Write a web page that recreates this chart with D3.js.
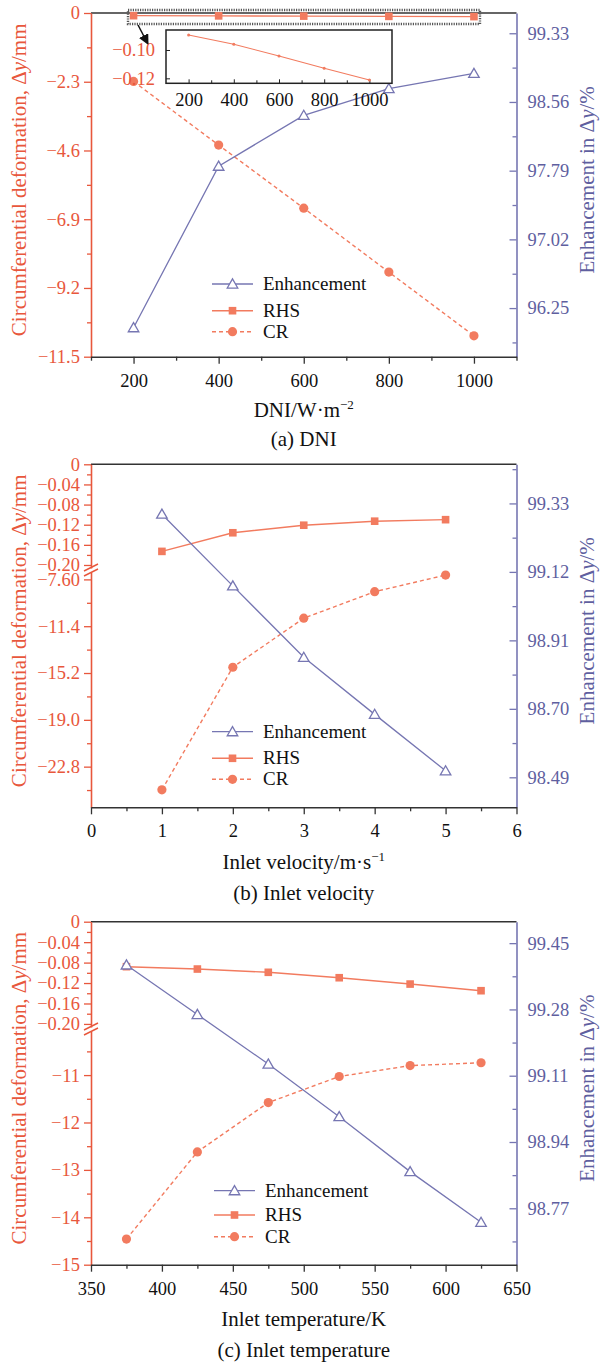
<!DOCTYPE html>
<html>
<head>
<meta charset="utf-8">
<script src="https://cdn.jsdelivr.net/npm/d3@7"></script>
<style>
  html, body { margin: 0; padding: 0; background: #fff; }
  svg { display: block; }
  svg text { font-family: "Liberation Serif", "Times New Roman", Times, serif; }
</style>
</head>
<body>
<svg id="chart" width="600" height="1365"></svg>
<script>
// ---- (a) DNI ----
const dni = [200, 400, 600, 800, 1000];
const dniEnh = [96.03, 97.84, 98.41, 98.71, 98.88];
const dniRHS = [-0.0894, -0.0960, -0.1042, -0.1129, -0.1212];
const dniCR = [-2.29, -4.42, -6.53, -8.67, -10.80];
const dniXTicks = [200, 400, 600, 800, 1000];
const dniXMinor = [100, 300, 500, 700, 900, 1100];
const dniLeftTicks = [0, -2.3, -4.6, -6.9, -9.2, -11.5];
const dniLeftLabels = ["0", "\u22122.3", "\u22124.6", "\u22126.9", "\u22129.2", "\u221211.5"];
const dniLeftMinor = [-1.15, -3.45, -5.75, -8.05, -10.35];
const dniRightTicks = [99.33, 98.56, 97.79, 97.02, 96.25];
const dniRightMinor = [98.945, 98.175, 97.405, 96.635, 95.865];
const insetYTicks = [-0.10, -0.12];
const insetYLabels = ["\u22120.10", "\u22120.12"];
const insetXTicks = [200, 400, 600, 800, 1000];
const insetXMinor = [300, 500, 700, 900];

// ---- (b) Inlet velocity ----
const vel = [1, 2, 3, 4, 5];
const velEnh = [99.297, 99.077, 98.858, 98.683, 98.51];
const velRHS = [-0.173, -0.136, -0.121, -0.113, -0.110];
const velCR = [-24.68, -14.73, -10.75, -8.60, -7.25];
const velXTicks = [0, 1, 2, 3, 4, 5, 6];
const velXMinor = [0.5, 1.5, 2.5, 3.5, 4.5, 5.5];
const velUpperTicks = [0, -0.04, -0.08, -0.12, -0.16, -0.20];
const velUpperLabels = ["0", "\u22120.04", "\u22120.08", "\u22120.12", "\u22120.16", "\u22120.20"];
const velUpperMinor = [-0.02, -0.06, -0.10, -0.14, -0.18];
const velLowerTicks = [-7.6, -11.4, -15.2, -19.0, -22.8];
const velLowerLabels = ["\u22127.60", "\u221211.4", "\u221215.2", "\u221219.0", "\u221222.8"];
const velLowerMinor = [-9.5, -13.3, -17.1, -20.9, -24.7];
const velRightTicks = [99.33, 99.12, 98.91, 98.70, 98.49];
const velRightMinor = [99.435, 99.225, 99.015, 98.805, 98.595];

// ---- (c) Inlet temperature ----
const temp = [375, 425, 475, 525, 575, 625];
const tempEnh = [99.394, 99.267, 99.14, 99.005, 98.864, 98.734];
const tempRHS = [-0.088, -0.0926, -0.099, -0.1096, -0.122, -0.135];
const tempCR = [-14.46, -12.62, -11.58, -11.03, -10.80, -10.74];
const tempXTicks = [350, 400, 450, 500, 550, 600, 650];
const tempXMinor = [375, 425, 475, 525, 575, 625];
const tempUpperTicks = [0, -0.04, -0.08, -0.12, -0.16, -0.20];
const tempUpperLabels = ["0", "\u22120.04", "\u22120.08", "\u22120.12", "\u22120.16", "\u22120.20"];
const tempUpperMinor = [-0.02, -0.06, -0.10, -0.14, -0.18];
const tempLowerTicks = [-11, -12, -13, -14, -15];
const tempLowerLabels = ["\u221211", "\u221212", "\u221213", "\u221214", "\u221215"];
const tempLowerMinor = [-10.5, -11.5, -12.5, -13.5, -14.5];
const tempRightTicks = [99.45, 99.28, 99.11, 98.94, 98.77];
const tempRightMinor = [99.365, 99.195, 99.025, 98.855, 98.685];

const seriesNames = ["Enhancement", "RHS", "CR"];

// ---- styling ----
const FONT = '"Liberation Serif", "Times New Roman", Times, serif';
const RED = "#E8573C";
const SALMON = "#F27B5F";
const BLUE = "#7676B2";
const BLUE_TEXT = "#5F5F9F";
const DARK = "#333";
const TICK_FONT = 18.5;
const LEFT = 91, RIGHT = 516.5;

const svg = d3.select("#chart").attr("font-family", FONT);

function styleAxis(g, color, textColor) {
  g.attr("font-family", FONT);
  g.select(".domain").attr("stroke", color).attr("stroke-width", 1.6);
  g.selectAll(".tick line").attr("stroke", color).attr("stroke-width", 1.3);
  g.selectAll(".tick text").attr("fill", textColor || color)
    .attr("font-size", TICK_FONT).attr("font-family", FONT);
}

function leftAxis(g, scale, ticks, labels, minor) {
  const a = g.append("g").attr("transform", `translate(${LEFT},0)`);
  a.call(d3.axisLeft(scale).tickValues(ticks).tickFormat((d, i) => labels[i])
    .tickSize(7).tickSizeOuter(0).tickPadding(4));
  styleAxis(a, RED);
  const m = g.append("g").attr("transform", `translate(${LEFT},0)`);
  m.call(d3.axisLeft(scale).tickValues(minor).tickFormat("").tickSize(4).tickSizeOuter(0));
  m.select(".domain").remove();
  m.selectAll(".tick line").attr("stroke", RED).attr("stroke-width", 1.3);
}

function rightAxis(g, scale, ticks, minor) {
  const a = g.append("g").attr("transform", `translate(${RIGHT},0)`);
  a.call(d3.axisRight(scale).tickValues(ticks).tickFormat(d3.format(".2f"))
    .tickSize(-7).tickSizeOuter(0).tickPadding(11));
  styleAxis(a, BLUE, BLUE_TEXT);
  const m = g.append("g").attr("transform", `translate(${RIGHT},0)`);
  m.call(d3.axisRight(scale).tickValues(minor.filter(v => {
    const y = scale(v); return y >= d3.min(scale.range()) && y <= d3.max(scale.range());
  })).tickFormat("").tickSize(-4).tickSizeOuter(0));
  m.select(".domain").remove();
  m.selectAll(".tick line").attr("stroke", BLUE).attr("stroke-width", 1.3);
}

function bottomAxis(g, x, y0, ticks, minor) {
  const a = g.append("g").attr("transform", `translate(0,${y0})`);
  a.call(d3.axisBottom(x).tickValues(ticks).tickFormat(d3.format("d"))
    .tickSize(7).tickSizeOuter(0).tickPadding(10));
  styleAxis(a, DARK, "#111");
  const m = g.append("g").attr("transform", `translate(0,${y0})`);
  m.call(d3.axisBottom(x).tickValues(minor).tickFormat("").tickSize(4).tickSizeOuter(0));
  m.select(".domain").remove();
  m.selectAll(".tick line").attr("stroke", DARK).attr("stroke-width", 1.3);
}

function triangle(sel, cx, cy) {
  const s = d3.symbol().type(d3.symbolTriangle).size(48);
  sel.append("path").attr("d", s()).attr("transform", `translate(${cx},${cy + 1})`)
    .attr("fill", "#fff").attr("stroke", BLUE).attr("stroke-width", 1.3);
}

function drawSeries(g, x, xs, yRHS, rhs, yCR, cr, yEnh, enh) {
  const line = (ys, yv) => d3.line().x((d, i) => x(xs[i])).y(d => ys(d))(yv);
  // CR: dashed with filled circles
  g.append("path").attr("d", line(yCR, cr)).attr("fill", "none")
    .attr("stroke", SALMON).attr("stroke-width", 1.4).attr("stroke-dasharray", "4,3");
  g.selectAll(null).data(cr).enter().append("circle")
    .attr("cx", (d, i) => x(xs[i])).attr("cy", d => yCR(d)).attr("r", 4.6)
    .attr("fill", SALMON);
  // RHS: solid with filled squares
  g.append("path").attr("d", line(yRHS, rhs)).attr("fill", "none")
    .attr("stroke", SALMON).attr("stroke-width", 1.4);
  g.selectAll(null).data(rhs).enter().append("rect")
    .attr("x", (d, i) => x(xs[i]) - 3.8).attr("y", d => yRHS(d) - 3.8)
    .attr("width", 7.6).attr("height", 7.6).attr("fill", SALMON);
  // Enhancement: solid blue with open triangles
  g.append("path").attr("d", line(yEnh, enh)).attr("fill", "none")
    .attr("stroke", BLUE).attr("stroke-width", 1.3);
  enh.forEach((d, i) => triangle(g, x(xs[i]), yEnh(d)));
}

function legend(g, yEnhRow, yRhsRow, yCrRow, x0) {
  const x1 = x0 + 41, xm = x0 + 20.5, tx = x0 + 51;
  g.append("line").attr("x1", x0).attr("x2", x1).attr("y1", yEnhRow).attr("y2", yEnhRow)
    .attr("stroke", BLUE).attr("stroke-width", 1.3);
  triangle(g, xm, yEnhRow);
  g.append("line").attr("x1", x0).attr("x2", x1).attr("y1", yRhsRow).attr("y2", yRhsRow)
    .attr("stroke", SALMON).attr("stroke-width", 1.4);
  g.append("rect").attr("x", xm - 3.8).attr("y", yRhsRow - 3.8).attr("width", 7.6).attr("height", 7.6)
    .attr("fill", SALMON);
  g.append("line").attr("x1", x0).attr("x2", x1).attr("y1", yCrRow).attr("y2", yCrRow)
    .attr("stroke", SALMON).attr("stroke-width", 1.4).attr("stroke-dasharray", "4,3");
  g.append("circle").attr("cx", xm).attr("cy", yCrRow).attr("r", 4.6).attr("fill", SALMON);
  [yEnhRow, yRhsRow, yCrRow].forEach((yy, i) => {
    g.append("text").attr("x", tx).attr("y", yy + 6).attr("font-size", 19)
      .attr("font-family", FONT).attr("fill", "#111").text(seriesNames[i]);
  });
}

function titles(g, top, bottom, xLabelParts, xLabelY, caption, captionY) {
  const cy = (top + bottom) / 2 - 5;
  const lt = g.append("text").attr("transform", `translate(26,${cy}) rotate(-90)`)
    .attr("text-anchor", "middle").attr("font-size", 21).attr("font-family", FONT).attr("fill", RED);
  lt.append("tspan").text("Circumferential deformation, \u0394");
  lt.append("tspan").attr("font-style", "italic").text("y");
  lt.append("tspan").text("/mm");

  const rt = g.append("text").attr("transform", `translate(594,${cy}) rotate(-90)`)
    .attr("text-anchor", "middle").attr("font-size", 21).attr("font-family", FONT).attr("fill", BLUE_TEXT);
  rt.append("tspan").text("Enhancement in \u0394");
  rt.append("tspan").attr("font-style", "italic").text("y");
  rt.append("tspan").text("/%");

  const xt = g.append("text").attr("x", (LEFT + RIGHT) / 2).attr("y", xLabelY)
    .attr("text-anchor", "middle").attr("font-size", 21).attr("font-family", FONT).attr("fill", "#111");
  xLabelParts.forEach(p => {
    const t = xt.append("tspan").text(p.t);
    if (p.sup) t.attr("font-size", 13).attr("dy", -8);
  });

  g.append("text").attr("x", (LEFT + RIGHT) / 2).attr("y", captionY)
    .attr("text-anchor", "middle").attr("font-size", 21).attr("font-family", FONT)
    .attr("fill", "#111").text(caption);
}

function frameTop(g, y) {
  g.append("line").attr("x1", LEFT).attr("x2", RIGHT).attr("y1", y).attr("y2", y)
    .attr("stroke", DARK).attr("stroke-width", 1.6);
}

function breakMarks(g, yMid) {
  [-2.5, 2.5].forEach(off => {
    g.append("line").attr("x1", LEFT - 7).attr("x2", LEFT + 7)
      .attr("y1", yMid + off + 3.5).attr("y2", yMid + off - 3.5)
      .attr("stroke", RED).attr("stroke-width", 1.4);
  });
}

// ================= Panel (a) =================
{
  const top = 13, bottom = 356.7;
  const g = svg.append("g");
  const x = d3.scaleLinear().domain([100, 1100]).range([LEFT, RIGHT]);
  const yL = d3.scaleLinear().domain([0, -11.5]).range([top, bottom]);
  const yR = d3.scaleLinear().domain([99.557, 95.705]).range([top, bottom]);

  frameTop(g, top);
  drawSeries(g, x, dni, yL, dniRHS, yL, dniCR, yR, dniEnh);
  leftAxis(g, yL, dniLeftTicks, dniLeftLabels, dniLeftMinor);
  rightAxis(g, yR, dniRightTicks, dniRightMinor);
  bottomAxis(g, x, bottom, dniXTicks, dniXMinor);
  legend(g, 284, 310.7, 331.7, 212);

  // highlight box around the RHS curve near zero
  g.append("rect").attr("x", 128).attr("y", 10).attr("width", 352).attr("height", 14)
    .attr("fill", "none").attr("stroke", "#555").attr("stroke-width", 2.4)
    .attr("stroke-dasharray", "1.2,1.2");

  // arrow into the inset
  const defs = svg.append("defs");
  defs.append("marker").attr("id", "arr").attr("viewBox", "0 0 10 10")
    .attr("refX", 9).attr("refY", 5).attr("markerWidth", 7).attr("markerHeight", 7)
    .attr("orient", "auto")
    .append("path").attr("d", "M0,0 L10,5 L0,10 z").attr("fill", "#111");
  g.append("line").attr("x1", 138).attr("y1", 25).attr("x2", 148).attr("y2", 44)
    .attr("stroke", "#111").attr("stroke-width", 1.5).attr("marker-end", "url(#arr)");

  // inset: RHS detail
  const ix = d3.scaleLinear().domain([100, 1100]).range([166, 392]);
  const iy = d3.scaleLinear().domain([-0.0859, -0.1235]).range([30, 83.3]);
  const ins = g.append("g");
  ins.append("rect").attr("x", 166).attr("y", 30).attr("width", 226).attr("height", 53.3)
    .attr("fill", "#fff").attr("stroke", "#222").attr("stroke-width", 1.5);
  const iax = ins.append("g").attr("transform", "translate(0,83.3)");
  iax.call(d3.axisBottom(ix).tickValues(insetXTicks).tickFormat(d3.format("d"))
    .tickSize(-4).tickSizeOuter(0).tickPadding(10));
  iax.select(".domain").remove();
  iax.selectAll(".tick line").attr("stroke", "#222");
  iax.selectAll(".tick text").attr("font-size", TICK_FONT).attr("fill", "#111").attr("font-family", FONT);
  const iaxm = ins.append("g").attr("transform", "translate(0,83.3)");
  iaxm.call(d3.axisBottom(ix).tickValues(insetXMinor).tickFormat("").tickSize(-3).tickSizeOuter(0));
  iaxm.select(".domain").remove();
  iaxm.selectAll(".tick line").attr("stroke", "#222");
  const iay = ins.append("g").attr("transform", "translate(166,0)");
  iay.call(d3.axisLeft(iy).tickValues(insetYTicks).tickFormat((d, i) => insetYLabels[i])
    .tickSize(-4).tickSizeOuter(0).tickPadding(11));
  iay.select(".domain").remove();
  iay.selectAll(".tick line").attr("stroke", "#222");
  iay.selectAll(".tick text").attr("font-size", TICK_FONT).attr("fill", RED).attr("font-family", FONT);
  ins.append("path").attr("d", d3.line().x((d, i) => ix(dni[i])).y(d => iy(d))(dniRHS))
    .attr("fill", "none").attr("stroke", SALMON).attr("stroke-width", 1.1);
  ins.selectAll(null).data(dniRHS).enter().append("circle")
    .attr("cx", (d, i) => ix(dni[i])).attr("cy", d => iy(d)).attr("r", 1.5).attr("fill", SALMON);

  titles(g, top, bottom,
    [{ t: "DNI/W\u00B7m" }, { t: "\u22122", sup: true }],
    416.7, "(a) DNI", 446);
}

// ================= Panel (b) =================
{
  const top = 464.3, bottom = 807.3;
  const g = svg.append("g");
  const x = d3.scaleLinear().domain([0, 6]).range([LEFT, RIGHT]);
  const yU = d3.scaleLinear().domain([0, -0.206]).range([top, 568]);
  const yLo = d3.scaleLinear().domain([-7.0, -26.1]).range([572, bottom]);
  const yR = d3.scaleLinear().domain([99.45, 98.398]).range([top, bottom]);

  frameTop(g, top);
  drawSeries(g, x, vel, yU, velRHS, yLo, velCR, yR, velEnh);
  leftAxis(g, yU, velUpperTicks, velUpperLabels, velUpperMinor);
  leftAxis(g, yLo, velLowerTicks, velLowerLabels, velLowerMinor);
  breakMarks(g, 570);
  rightAxis(g, yR, velRightTicks, velRightMinor);
  bottomAxis(g, x, bottom, velXTicks, velXMinor);
  legend(g, 731.7, 758.3, 779.3, 212);

  titles(g, top, bottom,
    [{ t: "Inlet velocity/m\u00B7s" }, { t: "\u22121", sup: true }],
    869, "(b) Inlet velocity", 900);
}

// ================= Panel (c) =================
{
  const top = 921.7, bottom = 1264.7;
  const g = svg.append("g");
  const x = d3.scaleLinear().domain([350, 650]).range([LEFT, RIGHT]);
  const yU = d3.scaleLinear().domain([0, -0.206]).range([top, 1027]);
  const yLo = d3.scaleLinear().domain([-10.07, -15]).range([1031, bottom]);
  const yR = d3.scaleLinear().domain([99.505, 98.6253]).range([top, bottom]);

  frameTop(g, top);
  drawSeries(g, x, temp, yU, tempRHS, yLo, tempCR, yR, tempEnh);
  leftAxis(g, yU, tempUpperTicks, tempUpperLabels, tempUpperMinor);
  leftAxis(g, yLo, tempLowerTicks, tempLowerLabels, tempLowerMinor);
  breakMarks(g, 1029);
  rightAxis(g, yR, tempRightTicks, tempRightMinor);
  bottomAxis(g, x, bottom, tempXTicks, tempXMinor);
  legend(g, 1190.7, 1215, 1236.7, 214);

  titles(g, top, bottom,
    [{ t: "Inlet temperature/K" }],
    1326, "(c) Inlet temperature", 1357);
}
</script>
</body>
</html>
